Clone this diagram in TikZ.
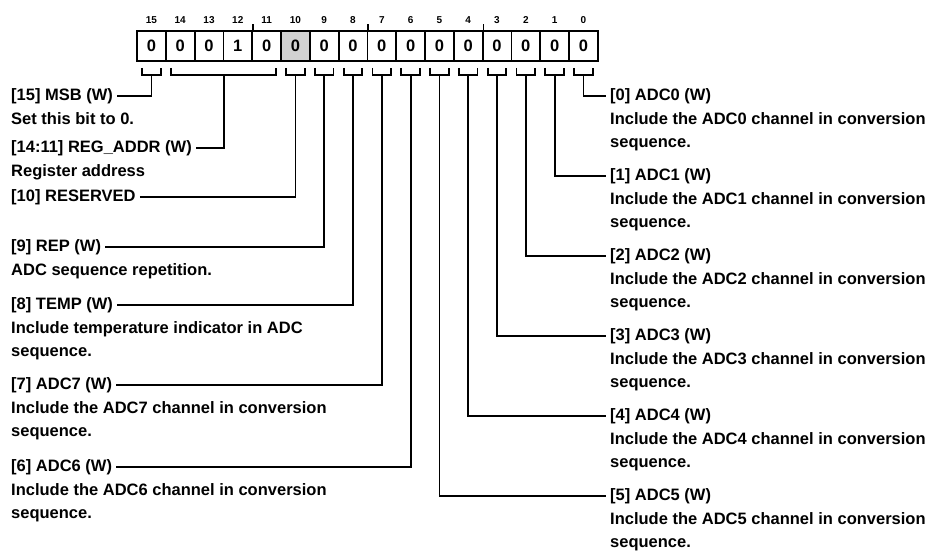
\documentclass[tikz,border=0pt]{standalone}
\usepackage{fontspec}
\setmainfont{Liberation Sans}
\usetikzlibrary{positioning}

\begin{document}
\begin{tikzpicture}[
    x=1pt, y=-1pt,
    cell/.style={draw, line width=1.8pt, minimum width=28.8pt, minimum height=30pt,
      inner sep=0pt, font=\bfseries\fontsize{16.5}{20}\selectfont},
    bitnum/.style={font=\bfseries\fontsize{10}{12}\selectfont},
    title/.style={inner xsep=4pt, inner ysep=0pt, font=\bfseries\fontsize{16.5}{23}\selectfont},
    desc/.style={align=left, inner xsep=4pt, inner ysep=0pt, font=\bfseries\fontsize{16.5}{22.5}\selectfont},
    wire/.style={line width=1.8pt}
  ]
  \useasboundingbox (0,0) rectangle (932,551);

  % register cells
  \foreach \n/\v/\f in {15/0/white,14/0/white,13/0/white,12/1/white,11/0/white,
      10/0/black!18,9/0/white,8/0/white,7/0/white,6/0/white,5/0/white,
      4/0/white,3/0/white,2/0/white,1/0/white,0/0/white} {
    \pgfmathsetmacro\cx{137+(15.5-\n)*28.8}
    \node[cell, fill=\f] (c\n) at (\cx,46) {\v};
    \node[bitnum] (b\n) at (\cx,20) {\n};
  }
  \foreach \n in {12,8,4}
    \draw[wire] (c\n.north east) -- ++(0,-6);

  % brackets and stems
  \foreach \n in {15,10,9,8,7,6,5,4,3,2,1,0} {
    \draw[wire] ([xshift=6pt,yshift=-6pt]c\n.south west) -- ++(0,7)
      -| ([xshift=-6pt,yshift=-6pt]c\n.south east);
    \coordinate (s\n) at ([yshift=-13pt]c\n.south);
  }
  \draw[wire] ([xshift=6pt,yshift=-6pt]c14.south west) -- ++(0,7)
    -| ([xshift=-6pt,yshift=-6pt]c11.south east);
  \coordinate (sreg) at ([yshift=-13pt]c13.south east);

  % left fields
  \node[title, anchor=west] (t15) at (7,96) {[15] MSB (W)};
  \node[desc, below=8.5pt of t15.south west, anchor=north west] (d15) {Set this bit to 0.};
  \node[title, anchor=west] (treg) at (7,148) {[14:11] REG\_ADDR (W)};
  \node[desc, below=8.5pt of treg.south west, anchor=north west] (dreg) {Register address};
  \node[title, anchor=west] (t10) at (7,197) {[10] RESERVED};
  \node[title, anchor=west] (t9) at (7,247) {[9] REP (W)};
  \node[desc, below=8.5pt of t9.south west, anchor=north west] (d9) {ADC sequence repetition.};
  \node[title, anchor=west] (t8) at (7,305) {[8] TEMP (W)};
  \node[desc, below=8.5pt of t8.south west, anchor=north west] (d8) {Include temperature indicator in ADC\\sequence.};
  \node[title, anchor=west] (t7) at (7,385) {[7] ADC7 (W)};
  \node[desc, below=8.5pt of t7.south west, anchor=north west] (d7) {Include the ADC7 channel in conversion\\sequence.};
  \node[title, anchor=west] (t6) at (7,467) {[6] ADC6 (W)};
  \node[desc, below=8.5pt of t6.south west, anchor=north west] (d6) {Include the ADC6 channel in conversion\\sequence.};

  \foreach \n in {15,reg,10,9,8,7,6}
    \draw[wire] (t\n.east) -| (s\n);

  % right fields
  \foreach \n/\y in {0/96,1/176,2/256,3/336,4/416,5/496} {
    \node[title, anchor=west] (t\n) at (606,\y) {[\n] ADC\n\ (W)};
    \node[desc, below=8.5pt of t\n.south west, anchor=north west] (d\n) {Include the ADC\n\ channel in conversion\\sequence.};
    \draw[wire] (s\n) |- (t\n.west);
  }
\end{tikzpicture}
\end{document}
